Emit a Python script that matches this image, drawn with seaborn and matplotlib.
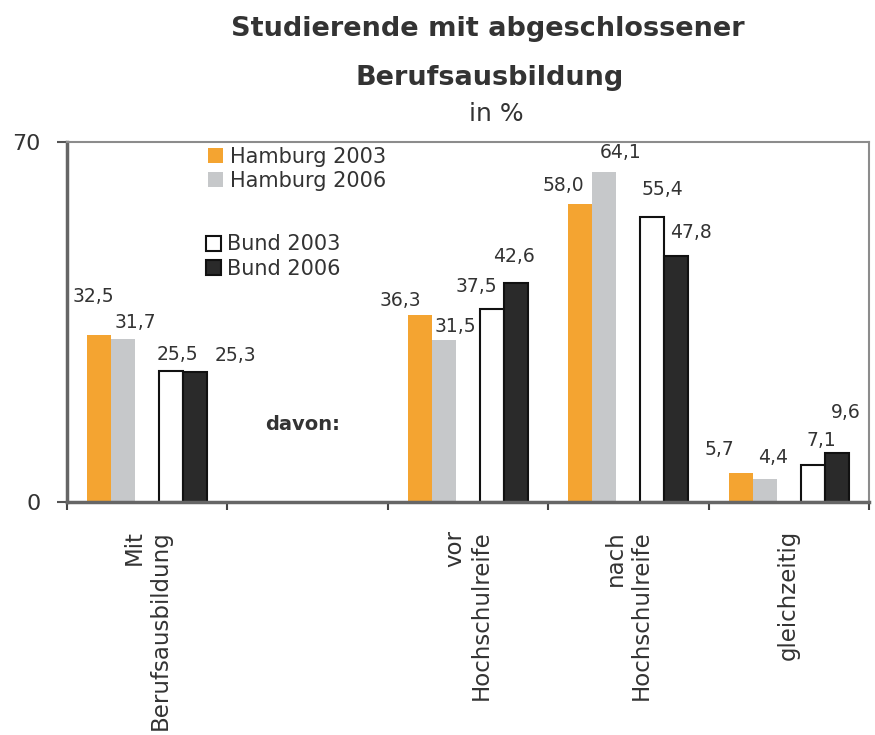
import matplotlib
matplotlib.use("Agg")
import matplotlib.pyplot as plt
from matplotlib.patches import Patch
import pandas as pd
import seaborn as sns

# --- DATA ---
CATEGORIES = ["Mit\nBerufsausbildung", " ", "vor\nHochschulreife",
              "nach\nHochschulreife", "gleichzeitig"]
SERIES = ["Hamburg 2003", "Hamburg 2006", "Bund 2003", "Bund 2006"]
HAMBURG_2003 = [32.5, None, 36.3, 58.0, 5.7]
HAMBURG_2006 = [31.7, None, 31.5, 64.1, 4.4]
BUND_2003 = [25.5, None, 37.5, 55.4, 7.1]
BUND_2006 = [25.3, None, 42.6, 47.8, 9.6]

# label nudges (pixels) per category / series, the original labels sit a bit off
LABEL_DX = [[-6, 12, 6, 40], [0, 0, 0, 0], [-19, 11, -16, -2],
            [-17, 16, 10, 15], [-21, 8, 9, 9]]
LABEL_DY = [[38, 16, 16, 16], [0, 0, 0, 0], [15, 13, 23, 26],
            [18, 20, 27, 24], [23, 22, 25, 40]]

COLORS = {"Hamburg 2003": "#F4A431", "Hamburg 2006": "#C6C8CA",
          "gap": "white", "Bund 2003": "white", "Bund 2006": "#2A2A2A"}
TEXT = "#333333"

rows = []
for name, vals in zip(SERIES, [HAMBURG_2003, HAMBURG_2006, BUND_2003, BUND_2006]):
    for cat, v in zip(CATEGORIES, vals):
        if v is not None:
            rows.append({"cat": cat, "series": name, "value": v})
df = pd.DataFrame(rows)

sns.set_style("white")
plt.rcParams["font.family"] = ["DejaVu Sans"]

fig = plt.figure(figsize=(8.75, 7.35), dpi=100)
ax = fig.add_axes([0.0766, 0.317, 0.9164, 0.490])

# "gap" is an empty hue level, it only keeps the space between the two pairs
hue_order = ["Hamburg 2003", "Hamburg 2006", "gap", "Bund 2003", "Bund 2006"]
sns.barplot(data=df, x="cat", y="value", hue="series", order=CATEGORIES,
            hue_order=hue_order, palette=COLORS, width=0.75, linewidth=0,
            saturation=1, legend=False, ax=ax)

# edges for the Bund bars + value labels
color_to_series = {}
for s in SERIES:
    color_to_series[matplotlib.colors.to_hex(COLORS[s])] = s
for bar in ax.patches:
    fc = matplotlib.colors.to_hex(bar.get_facecolor())
    s = color_to_series.get(fc)
    if s is None:
        continue
    si = SERIES.index(s)
    if s.startswith("Bund"):
        bar.set_edgecolor("#111111")
        bar.set_linewidth(1.5)
    xc = bar.get_x() + bar.get_width() / 2
    h = bar.get_height()
    ci = int(round(xc))
    ax.annotate(f"{h:.1f}".replace(".", ","), xy=(xc, h),
                xytext=(LABEL_DX[ci][si], LABEL_DY[ci][si]),
                textcoords="offset pixels", ha="center", va="center",
                fontsize=13.5, color=TEXT)

ax.set_xlim(-0.5, len(CATEGORIES) - 0.5)
ax.set_ylim(0, 70)
ax.set_yticks([0, 70])
ax.set_xlabel("")
ax.set_ylabel("")

ax.set_xticks(range(len(CATEGORIES)))
ax.set_xticklabels(CATEGORIES, rotation=90, va="top", ha="center",
                   multialignment="right", fontsize=16.5, color=TEXT)
ax.set_xticks([i - 0.5 for i in range(len(CATEGORIES) + 1)], minor=True)
ax.tick_params(axis="x", which="major", length=0, pad=20)
ax.tick_params(axis="x", which="minor", length=6, width=1.5, color="#444444",
               direction="out", bottom=True)
ax.tick_params(axis="y", length=7, width=1.5, color="#555555", direction="out",
               left=True, pad=12, labelsize=16, labelcolor=TEXT)

for side in ["left", "bottom"]:
    ax.spines[side].set_color("#666666")
    ax.spines[side].set_linewidth(2.5)
for side in ["top", "right"]:
    ax.spines[side].set_color("#8c8c8c")
    ax.spines[side].set_linewidth(1.5)

ax.text(0.97, 15, "davon:", ha="center", va="center", fontsize=14,
        fontweight="bold", color=TEXT)

# legends, two separate blocks
leg_kw = dict(frameon=False, fontsize=15, handlelength=0.72, handleheight=0.72,
              handletextpad=0.3, labelspacing=0.2, borderpad=0,
              borderaxespad=0, loc="upper left", labelcolor=TEXT)
h1 = [Patch(facecolor=COLORS[s], edgecolor="none", label=s) for s in SERIES[:2]]
h2 = [Patch(facecolor=COLORS[s], edgecolor="#111111", linewidth=1.5, label=s)
      for s in SERIES[2:]]
fig.legend(handles=h1, bbox_to_anchor=(0.238, 0.800), **leg_kw)
fig.legend(handles=h2, bbox_to_anchor=(0.235, 0.681), **leg_kw)

fig.text(0.558, 0.961, "Studierende mit abgeschlossener", ha="center",
         va="center", fontsize=19.5, fontweight="bold", color=TEXT)
fig.text(0.560, 0.894, "Berufsausbildung", ha="center", va="center",
         fontsize=19.5, fontweight="bold", color=TEXT)
fig.text(0.567, 0.845, "in %", ha="center", va="center", fontsize=18,
         color=TEXT)

fig.savefig("out.png", dpi=100)
